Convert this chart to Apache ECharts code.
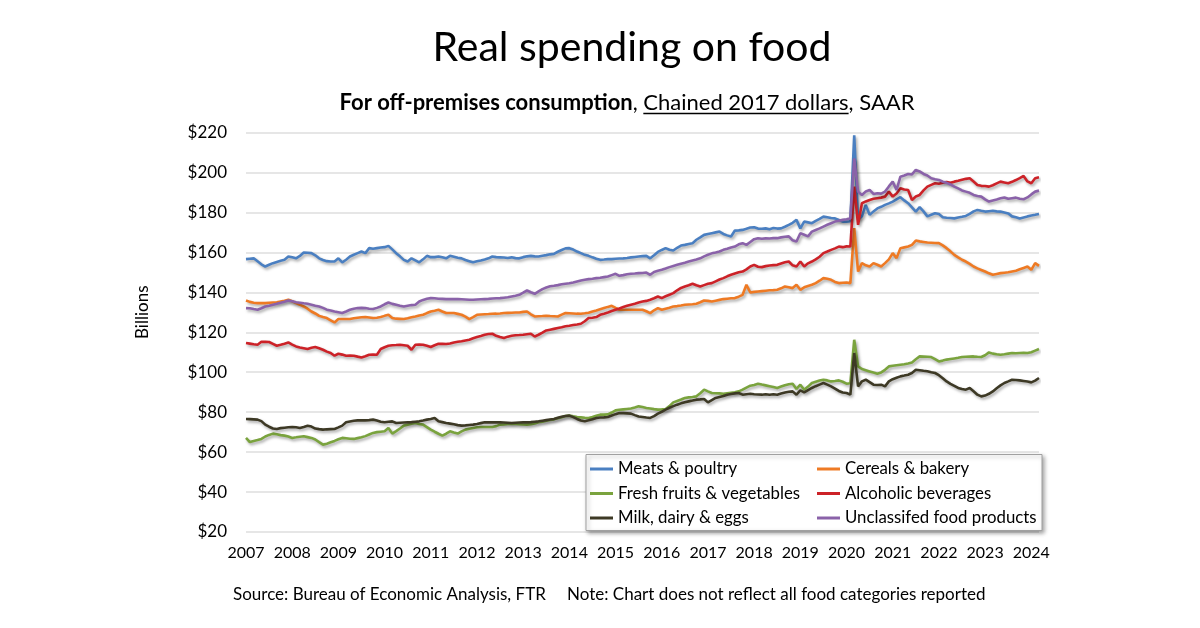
<!DOCTYPE html>
<html>
<head>
<meta charset="utf-8">
<script src="https://cdn.jsdelivr.net/npm/echarts@6/dist/echarts.min.js"></script>
<style>
html,body{margin:0;padding:0;background:#ffffff;}
#chart{width:1200px;height:628px;}
</style>
</head>
<body>
<div id="chart"></div>
<script>
// ---------- data (monthly, Jan 2007 - Mar 2024, billions of chained 2017 $, SAAR) ----------
const startYear = 2007;
const monthCount = 207;
const yTicks = [20, 40, 60, 80, 100, 120, 140, 160, 180, 200, 220];

const meatsPoultry = [
156.6,156.8,157,155.5,154,152.9,153.8,154.6,155.2,155.8,156.25,157.9,
157.5,157,158.2,159.9,159.8,159.6,158.5,157,156.2,155.6,155.4,155.4,
157,155,156.3,157.9,158.8,159.6,160.4,159.6,162.1,161.8,162.1,162.4,
162.6,163.25,161.5,159.6,158,156.25,155.4,157,156,155,156.5,158.25,
157.6,157.6,157.9,157.5,157,158.25,157.8,157.3,157,156.2,155.6,155,
155.5,155.9,156.4,157,157.9,157.6,157.5,157.4,157.2,157.5,157.1,157,
157.6,158,158.25,158,157.9,158.3,158.6,159,159.25,160.3,161.2,162,
162.1,161.4,160.4,159.6,158.75,158.25,157.5,156.8,156.25,156.4,156.6,156.6,
156.8,156.9,157,157.2,157.5,157.7,157.9,158.1,158.25,157,158.5,160.2,
161.2,162.1,161.3,160.9,162.3,163.4,163.75,164.2,164.6,166.3,167.5,168.75,
169.2,169.6,170,170.4,169.2,168.5,167.9,170.9,171,171.25,171.8,172.4,
172.6,171.9,171.8,172,171.6,172.2,171.9,172,172.8,173.75,174.8,176.25,
172,175.4,175,174.6,175.8,176.8,177.9,177.6,177.2,177,176.2,175.4,
175.4,175.6,218.6,176.25,178,183.75,178.75,180.5,182,182.8,183.75,184.5,
185.4,186.5,187.6,186,184.6,182.5,180.4,182.6,180.5,178,178.8,179.6,
179.2,177.6,177.3,177.2,177,177.4,177.8,178.25,179.3,180.5,181.25,180.8,
180.4,180.6,180.8,180.5,180.4,180,179.5,178,177.6,177,177.5,178,
178.4,178.8,179.25];

const cerealsBakery = [
135.9,135.2,134.8,134.6,134.6,134.6,134.8,134.9,135,135.4,135.8,136.25,
135.5,134.6,133.8,132.9,131.8,130.4,129.4,128.2,127.6,127.1,126,124.9,
126.6,126.6,126.6,126.6,127,127.3,127.5,127.6,127.4,127.1,127.3,127.6,
128.2,128.75,127.1,126.8,126.7,126.6,127,127.5,127.9,128.4,128.75,129.6,
130.4,130.8,131.25,130.4,129.6,129.6,129.6,129.2,128.75,127.8,126.6,127.6,
128.75,128.9,129,129.1,129.25,129.3,129.4,129.6,129.7,129.8,129.9,129.9,
130.2,130.4,129,127.9,128,128.1,128.25,128.1,128,127.9,128.8,129.6,
129.5,129.4,129.3,129.25,129.5,129.8,130.4,130.9,131.5,132.1,132.7,133.25,
132.2,131.25,131.25,131.25,131.25,131.25,131.25,131.25,130.5,129.6,131,132.1,
131.25,131.8,132.3,132.9,133.1,133.4,133.75,133.9,134,134.25,135,135.9,
135.7,135.4,135.8,136.2,136.6,136.8,137,137.1,137.8,138.75,143.75,139.9,
140.2,140.4,140.6,140.8,141,141.1,141.25,142,142.9,142.5,142.1,143.75,
141.25,142.5,143.2,143.75,144.6,145.8,147.1,146.8,146.25,145.2,144.6,144.8,
144.9,144.6,172.1,150.4,154.6,153.5,152.9,154.6,153.8,152.9,154.6,156.5,
159.6,157.1,162.1,162.5,162.9,163.75,165.9,165.5,165.2,164.9,164.8,164.7,
164.6,163.5,162.1,160.5,158.75,157.5,156.3,155.4,154.2,152.9,152,151.2,
150.4,149.5,148.75,149.2,149.6,149.8,150,150.4,150.8,151.5,152.2,152.9,
151.25,154.6,153.25];

const freshFruitsVeg = [
67.1,65,65.5,66,66.6,67.8,68.6,69.25,68.9,68.5,68.25,67.8,
67.1,67.4,67.7,67.9,67.5,67.1,66.3,65,63.75,64.2,64.9,65.6,
66.4,67.1,66.9,66.7,66.6,67,67.4,68,68.8,69.6,70,70.2,
70.4,72.1,69.25,70.5,71.8,73.25,73.7,74.2,74.6,74.1,73.75,72.5,
71.25,70.2,69.2,68.25,69.2,70.4,69.8,69.25,70.4,71.25,71.7,72.1,
72.4,72.6,72.6,72.6,72.6,73,73.75,73.9,74.1,74.25,74.1,74,
73.8,73.75,74,74.3,74.9,75.2,75.7,76.1,76.4,76.9,77.5,78.1,
78.25,77.9,77.6,77.4,77.2,77.1,77.6,78.2,78.75,78.75,78.9,79.8,
80.9,81.2,81.4,81.6,81.8,82.3,82.9,82.6,82.1,81.8,81.5,81.25,
81.4,81.6,83,84.9,85.6,86.3,87.1,87.4,87.6,87.9,89.5,91.25,
90.4,89.6,89.5,89.4,89.25,89.5,89.7,89.9,90.4,91.25,92.3,93.25,
93.6,94.25,93.8,93.4,93,92.6,92.1,92.8,93.5,94,94.25,91.6,
93.75,91.25,92.8,94.6,95.2,95.8,96.25,95.9,95.4,95.6,95.9,95.2,
94.25,94.5,116.25,102.9,101.6,101,100.4,99.8,99.25,99.9,101.2,102.9,
103.2,103.5,103.75,104,104.4,104.9,106.5,107.9,107.8,107.7,107.6,106.5,
105.4,105.8,106.3,106.6,106.9,107.2,107.6,107.7,107.8,107.9,107.7,107.6,
108.5,109.9,109.3,109,108.75,109,109.3,109.6,109.5,109.6,109.7,109.6,
110,110.8,111.6];

const alcoholicBev = [
114.6,114.3,114,113.75,115.25,115.2,115.1,114.2,113.25,113.75,114.3,114.9,
113.8,112.9,112.4,112,111.6,112.2,112.6,112,111.25,110.3,109.6,108.25,
109.25,108.8,108.25,108.3,108.25,107.8,107.4,108,108.75,108.8,108.75,111.6,
112.5,113.25,113.5,113.6,113.75,113.5,113.25,111.25,113.75,113.8,113.75,113.2,
112.6,113.5,114.25,114.2,114.1,114.4,114.9,115.2,115.5,115.9,116.25,117,
117.6,118.1,118.7,119.1,119.25,118.2,117.6,117.1,117.8,118.25,118.5,118.6,
118.75,119,119.25,117.9,118.75,119.8,120.9,121.3,121.7,122.1,122.5,123,
123.25,123.6,123.9,124.25,125.5,127.1,127.3,127.6,128.75,129.3,129.9,130.6,
131.25,131.9,132.6,133.25,133.8,134.3,134.9,135.4,135.7,136.25,137,137.9,
137.1,138,138.8,139.6,141,142.2,142.9,143.5,144.25,143.5,142.9,143.6,
144.3,144.6,145.5,146.4,147.1,148,148.75,149.4,150,150.4,151.5,152.9,
153.75,152.8,152.6,153.1,153.4,153.6,153.75,154.4,155,155.4,153.5,152.9,
155.4,152.9,154.5,155.4,156.5,157.8,159.6,160.4,161.25,162,162.9,162.6,
163,162.9,192.9,173.75,184.6,185.5,186.25,186.8,187.1,187.4,187.9,190.4,
187.9,189.5,192.1,191.5,191.25,186.25,188,188.75,191,192.9,193.8,194.6,
194.3,194.9,195.2,194.8,195.4,195.8,196.3,196.8,197.1,195.5,193.75,193.3,
193.2,192.9,193.6,194.5,195.4,195,194.6,195.3,196.2,197.2,198.25,195.5,
194.6,197.1,197.6];

const milkDairyEggs = [
76.6,76.5,76.4,76.25,75.5,73.75,72.7,71.8,71.6,72,72.2,72.4,
72.6,72.4,72.1,72.6,73.2,72.8,71.8,71.5,71.25,71.4,71.5,71.6,
72.4,73.25,74.9,75.3,75.7,75.9,75.9,75.9,76,76.25,75.8,75.2,
74.9,75.2,75.4,74.6,74.7,74.8,74.9,75,75.2,75.4,75.8,76.25,
76.6,77.1,75.4,75,74.6,74.25,73.9,73.5,73.25,73.4,73.6,73.75,
74.1,74.5,74.9,74.9,74.9,74.9,74.9,74.8,74.7,74.6,74.7,74.8,
74.9,74.9,75,75.2,75.4,75.7,76,76.3,76.6,77.2,77.7,78.1,
78.25,77.5,76.6,75.8,75.4,75.9,76.5,77.1,77.3,77.4,77.6,78.3,
79,79.6,79.5,79.4,79.25,78.5,77.8,77.6,77.3,77.1,78,79.25,
80.2,81.25,82.2,83,83.75,84.4,85,85.4,85.8,86.25,86.4,86.6,
84.9,86,87.1,87.6,88.1,88.75,89.1,89.4,89.6,88.75,89,89.25,
89,88.8,88.75,89,88.7,89,88.75,89.3,89.8,90.2,90.4,88.75,
90.9,89.9,91,92.1,93,93.8,94.6,93.8,92.9,91.8,90.6,89.8,
89.6,88.75,109.6,92.9,95.4,96.25,95,93.75,93.6,93.75,92.9,95.4,
96.5,97.2,97.9,98.3,98.75,99.6,101.25,101,100.7,100.5,100,99.6,
98.5,97,95.4,94.2,93.2,92.1,91.6,91.25,92.1,90.5,88.75,87.9,
88.3,89.2,90.4,92,93.4,94.6,95.4,96.25,96.1,95.9,95.6,95.3,
94.9,95.8,97.1];

const unclassified = [
132.1,132,131.6,131.25,132,132.9,133.3,133.8,134.25,134.8,135.3,135.9,
135.5,135,134.8,134.5,134.25,133.8,133.3,132.9,132.2,131.3,130.9,130.4,
130,129.6,130.4,131.25,131.8,132.1,132.2,132.1,131.8,131.6,132.2,132.9,
134,134.9,134.2,133.75,133.3,132.9,133.3,133.6,133.75,135.4,136.2,136.8,
137.1,137,136.8,136.7,136.6,136.6,136.6,136.6,136.5,136.4,136.3,136.25,
136.4,136.5,136.6,136.7,136.9,137,137.1,137.3,137.5,137.9,138.3,138.75,
139.8,140.9,140,139.25,140.5,141.6,142.4,143,143.25,143.6,144,144.25,
144.5,144.9,145.4,145.9,146.3,146.6,146.8,147.1,147.3,147.6,147.9,148.6,
149.25,148.25,148.6,149,149.25,149.4,149.6,149.7,149.9,148.75,150.2,150.8,
151.25,151.9,152.6,153.2,153.75,154.3,154.8,155.4,155.9,156.4,157,158,
158.8,159.5,159.9,160.4,161.25,161.8,162.4,162.9,164,164.6,163.75,165.2,
166.6,167.1,166.8,167,166.9,167.1,167.1,167.5,167.8,168,166,165.4,
169.6,168.8,168,170.4,171.2,172,172.9,173.8,174.6,175.4,175.8,176.25,
176.6,177,207,190.4,188.75,190.5,191.25,189.25,189.6,189.4,190.4,193,
195.4,191.25,197.9,198.5,199.25,199,201.25,200.5,199.25,198.5,197.1,196.6,
196.25,195.4,194.8,194,192.9,192,191,190.4,189.8,188.75,188.2,187.9,
186.5,185.4,186,186.5,187.1,187.5,186.8,187.1,187.4,186.8,186.6,187.5,
189,190.4,190.9];

const seriesNames = ['Meats & poultry','Cereals & bakery','Fresh fruits & vegetables','Alcoholic beverages','Milk, dairy & eggs','Unclassifed food products'];
const seriesColors = ['#4A7FC1','#EE7A24','#7AA33E','#CC2228','#3D3925','#8A62A9'];
const seriesData = [meatsPoultry, cerealsBakery, freshFruitsVeg, alcoholicBev, milkDairyEggs, unclassified];

// month categories
const months = [];
for (let i = 0; i < monthCount; i++) {
  const y = startYear + Math.floor(i / 12);
  const m = (i % 12) + 1;
  months.push(y + '-' + (m < 10 ? '0' + m : m));
}

const FONT = 'Lato, "Open Sans", "Noto Sans", sans-serif';

// subtitle pieces, measured so the underline sits under "Chained 2017 dollars"
const ctx = document.createElement('canvas').getContext('2d');
const subSize = 22;
const subPieces = [
  {t: 'For off-premises consumption', w: 'bold'},
  {t: ', ', w: 'normal'},
  {t: 'Chained 2017 dollars', w: 'normal', u: true},
  {t: ', SAAR', w: 'normal'}
];
function fontOf(p) { return (p.w === 'bold' ? 'bold ' : 'normal ') + subSize + 'px ' + FONT; }
subPieces.forEach(p => { ctx.font = fontOf(p); p.width = ctx.measureText(p.t).width; });
const subCenter = 627, subY = 103;
const subTotal = subPieces.reduce((s, p) => s + p.width, 0);
let cx = subCenter - subTotal / 2;
const subGraphics = [];
subPieces.forEach(p => {
  subGraphics.push({
    type: 'text', x: cx, y: subY, z: 5,
    style: {text: p.t, font: fontOf(p), fill: '#000', textAlign: 'left', textVerticalAlign: 'middle'}
  });
  if (p.u) {
    subGraphics.push({
      type: 'line', z: 5,
      shape: {x1: cx, y1: subY + 10.5, x2: cx + p.width, y2: subY + 10.5},
      style: {stroke: '#000', lineWidth: 1.3}
    });
  }
  cx += p.width;
});

const chart = echarts.init(document.getElementById('chart'), null, {renderer: 'canvas'});

const series = seriesNames.map((name, i) => ({
  name: name,
  type: 'line',
  data: seriesData[i],
  showSymbol: false,
  symbol: 'none',
  smooth: false,
  z: 2,
  lineStyle: {
    color: seriesColors[i],
    width: 2.6,
    shadowColor: 'rgba(0,0,0,0.35)',
    shadowBlur: 3,
    shadowOffsetX: 1.5,
    shadowOffsetY: 2
  },
  itemStyle: {color: seriesColors[i]},
  emphasis: {disabled: true}
}));

const legendCommon = {
  orient: 'vertical',
  top: 454.5,
  icon: 'rect',
  itemWidth: 23,
  itemHeight: 3,
  itemGap: 5.5,
  selectedMode: false,
  z: 10,
  textStyle: {fontSize: 16.8, color: '#000', fontFamily: FONT, lineHeight: 19}
};

chart.setOption({
  animation: false,
  backgroundColor: '#ffffff',
  title: [
    {
      text: 'Real spending on food',
      left: 627, top: 22, textAlign: 'center',
      textStyle: {fontSize: 41, fontWeight: 'normal', color: '#000', fontFamily: FONT}
    },
    {
      text: 'Source: Bureau of Economic Analysis, FTR',
      left: 233, top: 586, padding: 0,
      textStyle: {fontSize: 17, fontWeight: 'normal', color: '#000', fontFamily: FONT}
    },
    {
      text: 'Note: Chart does not reflect all food categories reported',
      left: 567, top: 586, padding: 0,
      textStyle: {fontSize: 17, fontWeight: 'normal', color: '#000', fontFamily: FONT}
    }
  ],
  grid: {left: 246, right: 161, top: 132.5, bottom: 96, containLabel: false},
  xAxis: {
    type: 'category',
    data: months,
    boundaryGap: false,
    axisLine: {show: false},
    axisTick: {show: false},
    splitLine: {show: false},
    axisLabel: {
      interval: (idx) => idx % 12 === 0,
      formatter: (v) => v.slice(0, 4),
      color: '#000', fontSize: 16, fontFamily: FONT, margin: 13,
      hideOverlap: false
    }
  },
  yAxis: {
    type: 'value',
    min: yTicks[0], max: yTicks[yTicks.length - 1], interval: 20,
    name: 'Billions',
    nameLocation: 'middle',
    nameGap: 95,
    nameTextStyle: {fontSize: 17, color: '#000', fontFamily: FONT, padding: [0, 0, 0, 40]},
    axisLine: {show: false},
    axisTick: {show: false},
    axisLabel: {formatter: (v) => '$' + v, color: '#000', fontSize: 17, fontFamily: FONT, margin: 19},
    splitLine: {lineStyle: {color: '#dedede', width: 1.5}}
  },
  legend: [
    Object.assign({}, legendCommon, {left: 585, data: [seriesNames[0], seriesNames[2], seriesNames[4]]}),
    Object.assign({}, legendCommon, {left: 812, data: [seriesNames[1], seriesNames[3], seriesNames[5]]})
  ],
  graphic: [
    {
      type: 'rect', z: 5,
      shape: {x: 586, y: 454.5, width: 456, height: 76},
      style: {fill: '#ffffff', stroke: '#a0a0a0', lineWidth: 1,
              shadowBlur: 4, shadowColor: 'rgba(0,0,0,0.35)', shadowOffsetX: 2, shadowOffsetY: 2}
    }
  ].concat(subGraphics),
  series: series
});
</script>
</body>
</html>
